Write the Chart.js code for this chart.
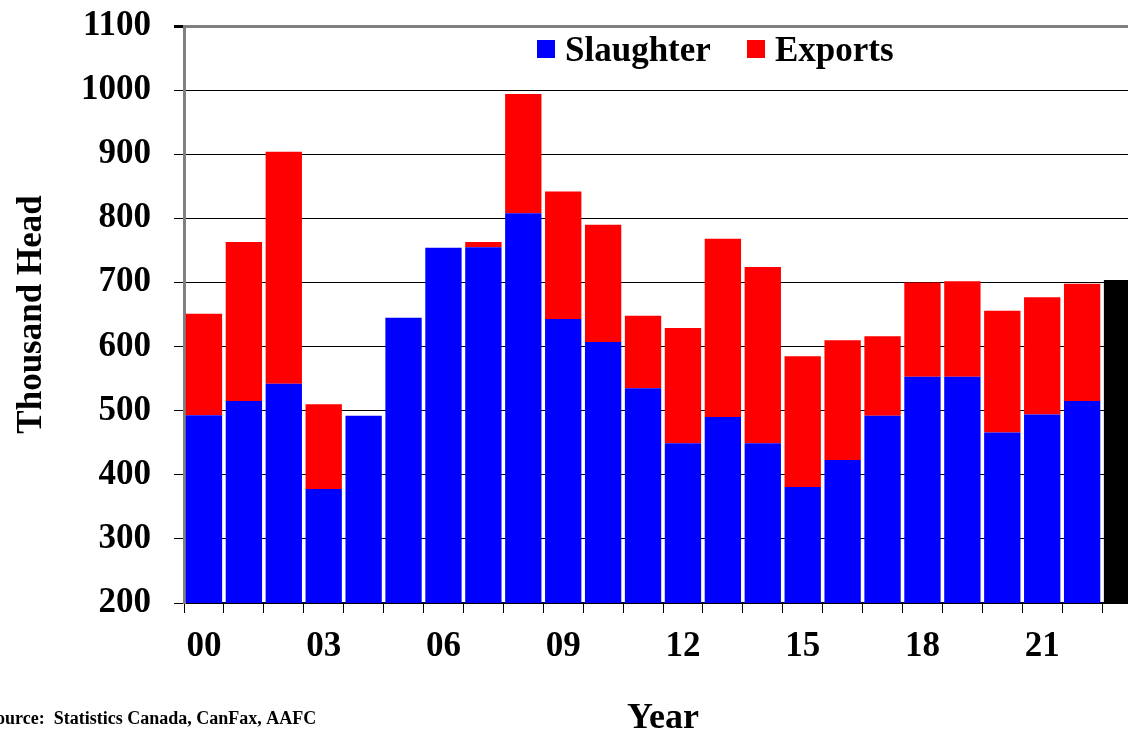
<!DOCTYPE html>
<html>
<head>
<meta charset="utf-8">
<script src="https://cdn.jsdelivr.net/npm/chart.js"></script>
<style>
    html, body { margin: 0; overflow: hidden; background: #fff; }
    #wrap { width: 1142px; height: 732px; position: relative; }
</style>
</head>
<body>
<div id="wrap"><canvas id="cattle-chart"></canvas></div>
<script>
const ctx = document.getElementById('cattle-chart');

// years 2000 - 2023, last one is the black bar
const years = ['00','01','02','03','04','05','06','07','08','09','10','11',
               '12','13','14','15','16','17','18','19','20','21','22','23'];
const slaughter = [493, 515, 542, 378, 492, 645, 754, 755, 808, 643, 607, 535,
                   449, 490, 449, 381, 423, 492, 553, 553, 466, 494, 515, null];
const exportsData = [158, 248, 362, 132, 0, 0, 0, 8, 186, 199, 183, 113,
                     180, 278, 275, 204, 187, 124, 147, 149, 190, 183, 183, null];
const forecast = [null, null, null, null, null, null, null, null, null, null, null, null,
                  null, null, null, null, null, null, null, null, null, null, null, 704];
const yTicks = [200, 300, 400, 500, 600, 700, 800, 900, 1000, 1100];

const serif = 'Liberation Serif, Times New Roman, serif';

// legend sits inside the plot, plus the source note at bottom left
const extras = {
    id: 'extras',
    afterDraw(chart) {
        const c = chart.ctx;
        c.save();
        c.font = 'bold 35px ' + serif;
        c.textBaseline = 'alphabetic';
        c.textAlign = 'left';
        const items = [
            { ds: chart.data.datasets[0], x: 537 },
            { ds: chart.data.datasets[1], x: 747 },
        ];
        items.forEach(it => {
            c.fillStyle = it.ds.backgroundColor;
            c.fillRect(it.x, 40, 18, 18);
            c.fillStyle = '#000';
            c.fillText(it.ds.label, it.x + 28, 61);
        });
        c.font = 'bold 18px ' + serif;
        c.fillText('Source:  Statistics Canada, CanFax, AAFC', -14, 724);
        c.restore();
    }
};

new Chart(ctx, {
    type: 'bar',
    data: {
        labels: years,
        datasets: [
            { label: 'Slaughter', data: slaughter, backgroundColor: '#0000ff' },
            { label: 'Exports', data: exportsData, backgroundColor: '#ff0000' },
            { label: 'Forecast', data: forecast, backgroundColor: '#000000' },
        ]
    },
    options: {
        responsive: true,
        maintainAspectRatio: false,
        animation: false,
        barPercentage: 0.91,
        categoryPercentage: 1,
        layout: { padding: { left: 14, top: 26, right: 0, bottom: 0 } },
        plugins: {
            legend: { display: false },
            tooltip: { enabled: false }
        },
        scales: {
            x: {
                stacked: true,
                ticks: {
                    autoSkip: false,
                    maxRotation: 0,
                    color: '#000',
                    padding: 13,
                    font: { family: serif, size: 35, weight: 'bold' },
                    callback: function (v, i) { return i % 3 === 0 ? this.getLabelForValue(v) : ''; }
                },
                grid: { drawOnChartArea: false, offset: true, tickLength: 10, color: '#000' },
                border: { color: '#000', width: 2 },
                title: {
                    display: true, text: 'Year', color: '#000', padding: 0,
                    font: { family: serif, size: 36, weight: 'bold', lineHeight: 0.75 }
                },
                afterFit: s => { s.height = 129; }
            },
            y: {
                stacked: true,
                min: yTicks[0],
                max: yTicks[yTicks.length - 1],
                afterBuildTicks: s => { s.ticks = yTicks.map(v => ({ value: v })); },
                ticks: {
                    color: '#000',
                    padding: 23,
                    // tiny lineHeight so the top label doesn't push the plot down
                    font: { family: serif, size: 35, weight: 'bold', lineHeight: 0.1 },
                    callback: v => String(v)
                },
                grid: {
                    tickLength: 10,
                    tickColor: '#000',
                    color: c => (c.tick && c.tick.value === 1100) ? '#808080' : '#000',
                    lineWidth: c => (c.tick && c.tick.value === 1100) ? 3 : 1
                },
                border: { color: '#808080', width: 3 },
                title: {
                    display: true, text: 'Thousand Head', color: '#000', padding: 0,
                    font: { family: serif, size: 35, weight: 'bold', lineHeight: 1 }
                },
                afterFit: s => { s.width = 170; }
            }
        }
    },
    plugins: [extras]
});
</script>
</body>
</html>
